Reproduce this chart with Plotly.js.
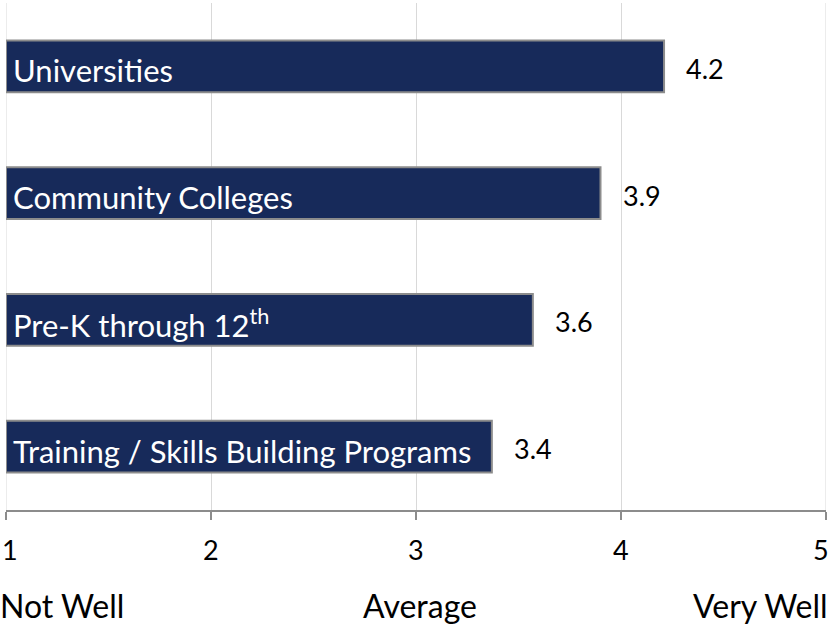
<!DOCTYPE html>
<html>
<head>
<meta charset="utf-8">
<script src="https://cdn.plot.ly/plotly-3.0.1.min.js"></script>
<style>
  html, body { margin: 0; padding: 0; background: #fff; }
  #chart { width: 831px; height: 624px; }
</style>
</head>
<body>
<div id="chart"></div>
<script>
// categories listed bottom to top, as Plotly draws them
const categories = ['Training / Skills Building Programs', 'Pre-K through 12<sup>th</sup>', 'Community Colleges', 'Universities'];
const scores = [3.37, 3.57, 3.9, 4.21];
const scoreLabels = ['3.4', '3.6', '3.9', '4.2'];
const tickValues = [1, 2, 3, 4, 5];
const scaleLabels = ['Not Well', 'Average', 'Very Well'];
const scaleLabelPos = [1, 3, 5];

const font = 'Lato, "Open Sans", sans-serif';
const yIdx = categories.map((c, i) => i);

const trace = {
    type: 'bar',
    orientation: 'h',
    y: yIdx,
    x: scores.map(v => v - 1),
    base: 1,
    width: 0.41,
    marker: { color: '#172a5a', line: { color: '#8c8c8c', width: 2 } },
    hoverinfo: 'skip'
};

const annotations = [];
categories.forEach((c, i) => {
    annotations.push({
        x: 1, y: i, xref: 'x', yref: 'y', text: c, showarrow: false,
        xanchor: 'left', xshift: 5, yshift: -4,
        font: { family: font, size: 31, color: '#ffffff' }
    });
    annotations.push({
        x: scores[i], y: i, xref: 'x', yref: 'y', text: scoreLabels[i], showarrow: false,
        xanchor: 'left', xshift: 20, yshift: -2,
        font: { family: font, size: 27, color: '#000000' }
    });
});
// tick labels drawn as annotations; the two end ones are kept inside the page
tickValues.forEach((v, i) => {
    const first = i === 0, last = i === tickValues.length - 1;
    annotations.push({
        x: v, y: 0, xref: 'x', yref: 'paper', text: String(v), showarrow: false,
        xanchor: first ? 'left' : (last ? 'right' : 'center'),
        xshift: first ? -6 : (last ? 5 : 0),
        yanchor: 'middle', yshift: -39,
        font: { family: font, size: 27, color: '#000000' }
    });
});
scaleLabels.forEach((t, i) => {
    const anchor = i === 0 ? 'left' : (i === scaleLabels.length - 1 ? 'right' : 'center');
    annotations.push({
        x: scaleLabelPos[i], y: 0, xref: 'x', yref: 'paper', text: t, showarrow: false,
        xanchor: anchor, yanchor: 'middle', yshift: -95,
        xshift: i === 0 ? -8 : 4,
        font: { family: font, size: 32, color: '#000000' }
    });
});

// light gridlines at the two ends of the scale
const shapes = [1, 5].map(v => ({
    type: 'line', xref: 'x', yref: 'paper', x0: v, x1: v, y0: 0, y1: 1,
    line: { color: '#d9d9d9', width: 1 }, layer: 'below'
}));

const layout = {
    width: 831,
    height: 624,
    margin: { l: 6, r: 5, t: 3, b: 114 },
    paper_bgcolor: '#ffffff',
    plot_bgcolor: '#ffffff',
    showlegend: false,
    xaxis: {
        range: [1, 5],
        tickvals: tickValues,
        showticklabels: false,
        ticks: 'outside',
        ticklen: 8,
        tickwidth: 2,
        tickcolor: '#8c8c8c',
        showline: true,
        linecolor: '#8c8c8c',
        linewidth: 2,
        showgrid: true,
        gridcolor: '#d9d9d9',
        gridwidth: 1,
        zeroline: false,
        fixedrange: true
    },
    yaxis: {
        range: [-0.5, 3.5],
        showticklabels: false,
        showgrid: false,
        zeroline: false,
        ticks: '',
        fixedrange: true
    },
    shapes: shapes,
    annotations: annotations
};

Plotly.newPlot('chart', [trace], layout, { displayModeBar: false, staticPlot: true });
</script>
</body>
</html>
